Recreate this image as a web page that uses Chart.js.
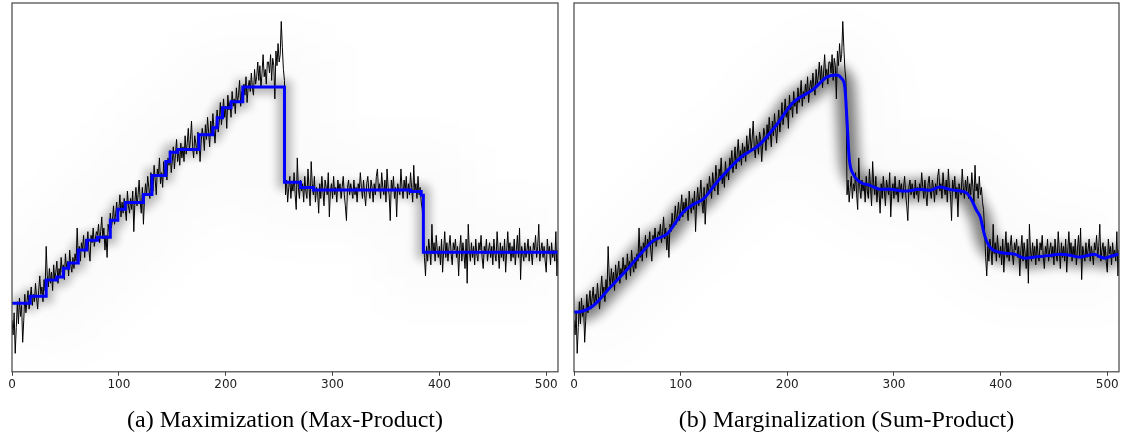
<!DOCTYPE html>
<html>
<head>
<meta charset="utf-8">
<script src="https://cdn.jsdelivr.net/npm/chart.js@4.4.1/dist/chart.umd.min.js"></script>
<style>
  html, body { margin: 0; padding: 0; background: #fff; }
  #wrap { position: relative; width: 1121px; height: 445px; }
  canvas { position: absolute; top: 0; }
  #c1 { left: 0; }
  #c2 { left: 561px; }
</style>
</head>
<body>
<div id="wrap">
  <canvas id="c1" width="560" height="445"></canvas>
  <canvas id="c2" width="560" height="445"></canvas>
</div>
<script>
// noisy observations, one value per sample (x = index)
const obsY = [
  14, 10, 16, 5, 12, 19, 13, 20, 15, 18, 8, 14, 21, 16, 19, 22,
  17, 20, 23, 18, 21, 19, 24, 20, 17, 22, 26, 21, 23, 19, 25, 22,
  34, 26, 23, 28, 24, 27, 22, 29, 25, 27, 30, 24, 28, 26, 31, 27,
  29, 25, 32, 28, 30, 26, 33, 29, 27, 31, 28, 32, 30, 39, 31, 34,
  30, 35, 33, 37, 31, 36, 34, 38, 33, 30, 37, 35, 39, 34, 36, 38,
  37, 40, 35, 38, 42, 36, 39, 33, 37, 31, 40, 38, 43, 39, 41, 45,
  40, 43, 46, 41, 44, 48, 42, 46, 43, 47, 44, 41, 49, 45, 43, 47,
  44, 49, 38, 46, 50, 45, 48, 52, 46, 43, 50, 40, 47, 51, 48, 53,
  50, 47, 54, 51, 49, 56, 52, 48, 55, 53, 58, 51, 54, 50, 57, 53,
  55, 52, 58, 56, 60, 54, 57, 61, 55, 59, 63, 57, 60, 56, 62, 58,
  61, 57, 64, 59, 62, 66, 60, 63, 68, 61, 58, 64, 62, 59, 65, 63,
  57, 62, 66, 64, 60, 67, 63, 69, 65, 61, 68, 64, 70, 66, 62, 67,
  71, 65, 68, 73, 67, 70, 74, 69, 72, 66, 75, 71, 73, 69, 76, 72,
  74, 70, 77, 73, 75, 79, 72, 76, 74, 78, 75, 80, 73, 77, 79, 76,
  81, 77, 75, 82, 78, 80, 84, 79, 83, 77, 81, 86, 80, 82, 78, 84,
  84, 81, 86, 79, 85, 83, 74, 87, 83, 89, 84, 86, 95, 88, 82, 79,
  48, 52, 46, 50, 53, 47, 51, 49, 54, 48, 44, 58, 50, 47, 52, 49,
  51, 46, 53, 49, 47, 55, 50, 45, 57, 51, 48, 53, 46, 50, 49, 43,
  51, 47, 53, 49, 45, 52, 50, 48, 54, 42, 49, 51, 47, 53, 48, 50,
  46, 52, 49, 51, 47, 50, 53, 48, 45, 41, 50, 52, 48, 51, 49, 47,
  52, 48, 50, 46, 51, 49, 54, 50, 47, 52, 48, 45, 51, 53, 49, 47,
  52, 50, 46, 51, 48, 53, 55, 49, 51, 47, 54, 50, 48, 52, 46, 55,
  50, 48, 41, 52, 49, 53, 47, 50, 42, 51, 49, 48, 55, 50, 47, 52,
  49, 53, 47, 51, 48, 54, 50, 46, 56, 49, 51, 47, 53, 48, 50, 46,
  44, 38, 31, 26, 34, 30, 36, 33, 29, 40, 32, 35, 30, 37, 33, 31,
  34, 29, 36, 27, 33, 38, 31, 35, 30, 34, 37, 32, 29, 35, 33, 36,
  31, 34, 26, 33, 37, 30, 35, 32, 28, 36, 24, 40, 33, 30, 35, 31,
  34, 29, 36, 32, 30, 35, 33, 37, 31, 28, 34, 32, 36, 30, 33, 35,
  31, 34, 29, 36, 32, 30, 38, 33, 28, 35, 31, 34, 30, 36, 27, 33,
  38, 32, 35, 30, 34, 31, 36, 29, 33, 37, 31, 39, 25, 34, 32, 30,
  35, 31, 33, 36, 30, 34, 32, 29, 35, 33, 37, 31, 34, 40, 30, 33,
  35, 31, 34, 30, 27, 36, 32, 34, 29, 35, 31, 33, 30, 38, 26, 33,
];

// max-product estimate: level starts at x and holds until the next x
const mapX = [0, 17, 32, 42, 48, 53, 62, 70, 80, 92, 99, 106, 123, 131, 144, 148, 155, 175, 188, 192,
  197, 205, 216, 255, 270, 282, 373, 383, 385, 511];
const mapY = [18.6, 20.5, 24.9, 25.7, 28.1, 29.5, 33.0, 35.7, 36.5, 41.1, 44.1, 45.9, 48.1, 53.2, 57.0, 59.5, 60.3, 64.3, 66.2, 68.9,
  71.6, 73.2, 77.2, 51.4, 50.0, 49.3, 48.9, 47.9, 32.4, 32.4];

// sum-product (posterior mean) estimate
const sumX = [0, 6, 18, 34, 50, 65, 74, 87, 93, 102, 112, 121, 134, 156, 174, 190, 205, 224, 237, 246,
  251, 254, 256, 258, 262, 268, 278, 287, 296, 310, 324, 334, 343, 353, 362, 368, 373, 377, 381, 385,
  390, 399, 413, 423, 432, 445, 456, 465, 474, 481, 488, 493, 498, 504, 511];
const sumY = [16.2, 16.3, 17.9, 22.9, 27.8, 32.8, 35.5, 37.3, 39.5, 43.2, 45.4, 46.8, 51.4, 58.1, 61.6, 67.0, 72.9, 76.5, 79.9, 80.5,
  79.5, 77, 68, 58, 53.5, 51.5, 50.5, 49.5, 49.5, 49.0, 49.5, 49.2, 50.1, 49.4, 49.0, 48.5, 46.5, 44, 41.9, 37,
  33.8, 32.4, 31.9, 30.8, 31.1, 31.5, 31.9, 31.6, 31.1, 31.5, 31.9, 31.2, 30.8, 31.4, 31.9];

const xTicks = [0, 100, 200, 300, 400, 500];
const captions = ["(a) Maximization (Max-Product)", "(b) Marginalization (Sum-Product)"];

// blur a dataset while it is drawn (posterior shading)
const blurPlugin = {
  id: "blurPlugin",
  beforeDatasetDraw(chart, args) {
    const ds = chart.data.datasets[args.index];
    if (ds.blur) {
      chart.ctx.save();
      chart.ctx.filter = `blur(${ds.blur}px)`;
    }
  },
  afterDatasetDraw(chart, args) {
    if (chart.data.datasets[args.index].blur) chart.ctx.restore();
  },
};

// box round the plot area
const framePlugin = {
  id: "framePlugin",
  afterDraw(chart) {
    const { ctx, chartArea: a } = chart;
    ctx.save();
    ctx.strokeStyle = "#444";
    ctx.lineWidth = 1.2;
    ctx.strokeRect(a.left, a.top, a.right - a.left, a.bottom - a.top);
    ctx.restore();
  },
};

function toPoints(xs, ys) {
  return xs.map((x, i) => ({ x: x, y: ys[i] }));
}

function makeChart(id, fit, stepped, caption, padLeft, shade) {
  const obs = obsY.map((y, i) => ({ x: i, y: y }));
  const line = { pointRadius: 0, fill: false, stepped: stepped, cubicInterpolationMode: "monotone" };
  new Chart(document.getElementById(id), {
    type: "line",
    data: {
      datasets: [
        { ...line, data: fit, borderColor: "rgba(0,0,0,0.014)", borderWidth: 90, blur: 25, order: 4 },
        { ...line, data: fit, borderColor: shade.color, borderWidth: shade.width, blur: shade.blur, order: 3 },
        { data: obs, borderColor: "#000", borderWidth: 1, pointRadius: 0, tension: 0, order: 2 },
        { ...line, data: fit, borderColor: "#0000ff", borderWidth: 3, order: 1 },
      ],
    },
    options: {
      responsive: false,
      animation: false,
      devicePixelRatio: 1,
      layout: { padding: { top: 3, left: padLeft, right: 2, bottom: 2 } },
      plugins: {
        legend: { display: false },
        tooltip: { enabled: false },
        title: {
          display: true,
          position: "bottom",
          text: caption,
          color: "#000",
          font: { family: "Liberation Serif", size: 24, weight: "normal" },
          padding: { top: 12, bottom: 8 },
        },
      },
      scales: {
        x: {
          type: "linear",
          min: 0,
          max: 511,
          afterBuildTicks: (s) => {
            s.ticks = xTicks.map((v) => ({ value: v }));
          },
          ticks: { color: "#222", font: { family: "DejaVu Sans", size: 12 }, padding: 2, maxRotation: 0 },
          grid: { drawOnChartArea: false, drawTicks: true, tickLength: 4, color: "#444" },
          border: { display: false },
        },
        y: { type: "linear", min: 0, max: 100, display: false },
      },
    },
    plugins: [blurPlugin, framePlugin],
  });
}

makeChart("c1", toPoints(mapX, mapY), "before", captions[0], 12,
  { color: "rgba(0,0,0,0.28)", width: 14, blur: 5 });
makeChart("c2", toPoints(sumX, sumY), false, captions[1], 13,
  { color: "rgba(0,0,0,0.5)", width: 20, blur: 6 });
</script>
</body>
</html>
